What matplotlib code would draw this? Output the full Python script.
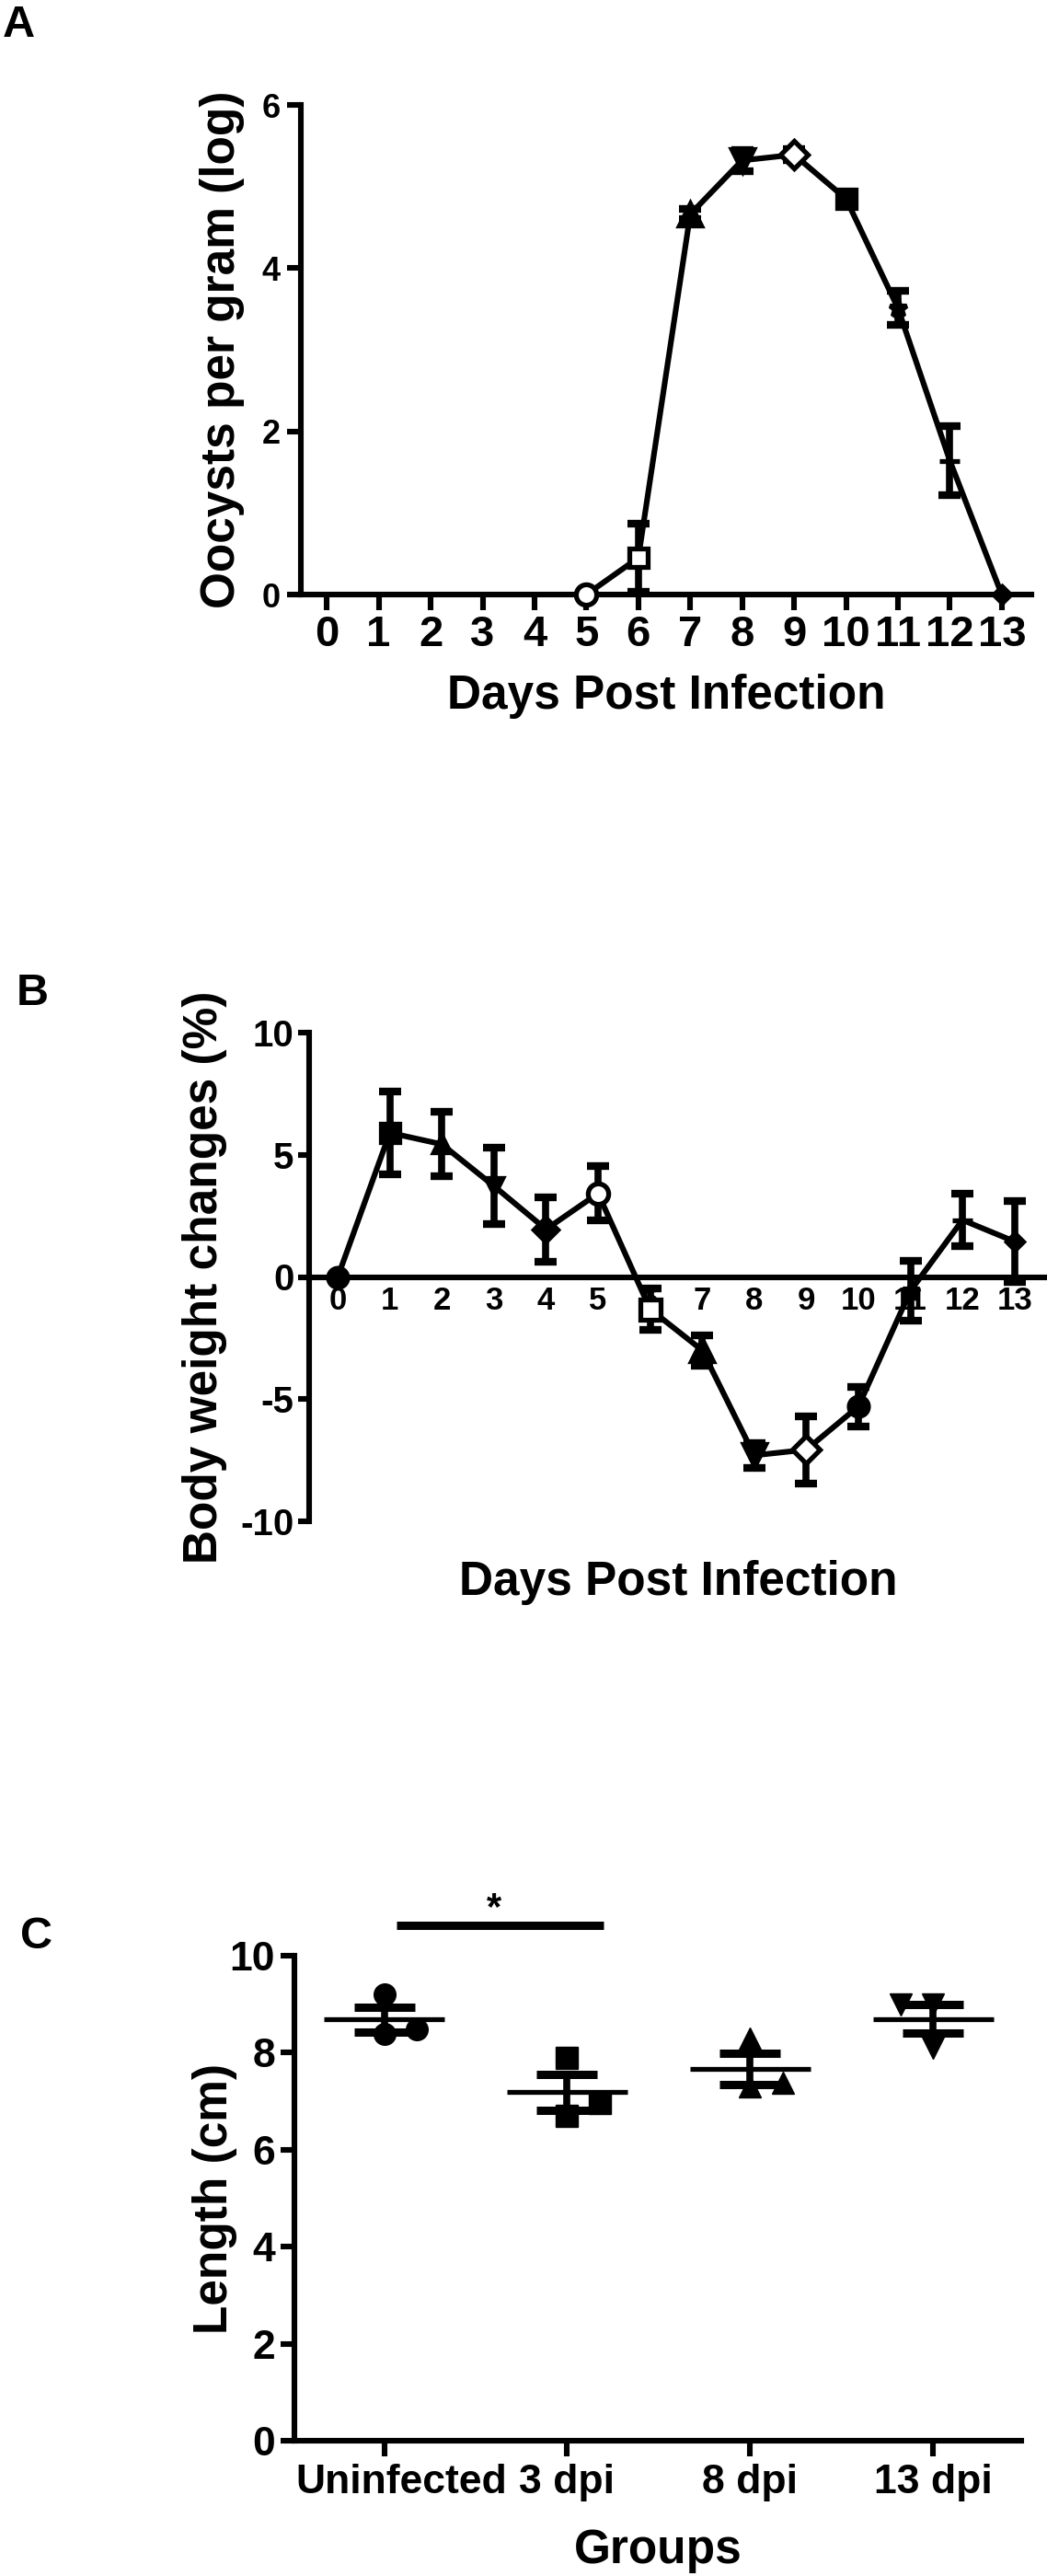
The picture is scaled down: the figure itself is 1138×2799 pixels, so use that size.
import numpy as np
import matplotlib
matplotlib.use("Agg")
from matplotlib import pyplot as plt
from matplotlib.transforms import ScaledTranslation

plt.rcParams['font.family'] = ['Liberation Sans', 'DejaVu Sans']
plt.rcParams['font.weight'] = 'bold'
plt.rcParams['axes.unicode_minus'] = False

# figure size in pixels (dpi 100)
W, H = 1138, 2799

# Panel A: oocysts per gram (log), mean and SEM per day
a_days = [5, 6, 7, 8, 9, 10, 11, 12, 13]
a_mean = [0.0, 0.45, 4.66, 5.32, 5.39, 4.85, 3.51, 1.64, 0.0]
a_sem = [0.0, 0.42, 0.06, 0.13, 0.07, 0.05, 0.21, 0.42, 0.0]
a_xticks = list(range(14))
a_yticks = [0, 2, 4, 6]

# Panel B: body weight changes (%), mean and SEM per day
b_days = list(range(14))
b_mean = [0.0, 5.9, 5.43, 3.72, 1.95, 3.42, -1.32, -3.0, -7.3, -7.07, -5.3, -0.57, 2.33, 1.45]
b_sem = [0.0, 1.69, 1.32, 1.57, 1.32, 1.1, 0.85, 0.62, 0.5, 1.38, 0.81, 1.22, 1.06, 1.65]
b_yticks = [-10, -5, 0, 5, 10]

# Panel C: length (cm) per group, three animals each
c_groups = ['Uninfected', '3 dpi', '8 dpi', '13 dpi']
c_values = [[9.2, 8.39, 8.48], [7.9, 6.69, 6.97], [8.3, 7.3, 7.38], [9.0, 8.1, 9.0]]
c_yticks = [0, 2, 4, 6, 8, 10]
c_sig = '*'

# symbol styles (one per day, as in the original software)
a_marker = ['o', 's', '^', 'v', 'D', 's', '*', '_', 'D']
a_fill = [False, False, True, True, False, True, True, True, True]
a_msize = [16, 15, 17, 17, 15, 15, 14, 16, 9]
b_marker = ['o', 's', '^', 'v', 'D', 'o', 's', '^', 'v', 'D', 'o', '*', '_', 'D']
b_fill = [True, True, True, True, True, False, False, True, True, False, True, True, True, True]
b_msize = [15, 15, 13, 13, 13, 16, 16, 17, 17, 15, 15, 14, 16, 9]
c_marker = ['o', 's', '^', 'v']
c_side = [1, 1, 1, -1]


def fig_xy(x, y):
    return x / W, 1 - y / H


def axes_rect(left, top, right, bottom):
    return [left / W, 1 - bottom / H, (right - left) / W, (bottom - top) / H]


def style_axes(ax):
    for s in ['top', 'right']:
        ax.spines[s].set_visible(False)
    for s in ['left', 'bottom']:
        ax.spines[s].set_linewidth(4.4)
        ax.spines[s].set_capstyle('projecting')
    ax.tick_params(width=4.4, color='k')
    for lab in ax.get_xticklabels() + ax.get_yticklabels():
        lab.set_fontweight('bold')


def draw_points(ax, xs, ys, markers, fills, sizes):
    for x, y, m, f, s in zip(xs, ys, markers, fills, sizes):
        ax.plot(x, y, marker=m, ms=s, mec='k', mfc='k' if f else 'white',
                mew=3.8, linestyle='none', clip_on=False, zorder=5)


def draw_errors(ax, xs, ys, es):
    keep = [i for i, e in enumerate(es) if e > 0]
    ax.errorbar([xs[i] for i in keep], [ys[i] for i in keep],
                yerr=[es[i] for i in keep], fmt='none', ecolor='k',
                elinewidth=5.5, capsize=8.3, capthick=6, clip_on=False, zorder=3)


def spread(vals, side, gap=0.18, tol=0.5):
    offs = []
    for i, v in enumerate(vals):
        hit = any(abs(v - vals[j]) < tol and offs[j] == 0 for j in range(i))
        offs.append(side * gap if hit else 0.0)
    return offs


fig = plt.figure(figsize=(W / 100, H / 100), dpi=100)

# ---------------- Panel A ----------------
ax = fig.add_axes(axes_rect(327, 114, 1121, 646))
ax.plot(a_days, a_mean, color='k', lw=4.4, zorder=2, clip_on=False)
draw_errors(ax, a_days, a_mean, a_sem)
draw_points(ax, a_days, a_mean, a_marker, a_fill, a_msize)
ax.set_xlim(-0.5, 13.57)
ax.set_ylim(0, 6)
ax.set_xticks(a_xticks)
ax.set_yticks(a_yticks)
style_axes(ax)
ax.tick_params(axis='x', length=12, pad=4, labelsize=34)
ax.tick_params(axis='y', length=11, pad=5, labelsize=26)

fig.text(*fig_xy(3, 40), 'A', fontsize=35, fontweight='bold', ha='left', va='baseline')
fig.text(*fig_xy(241, 380), 'Oocysts per gram (log)', fontsize=37, fontweight='bold',
         rotation=90, ha='center', va='center')
fig.text(*fig_xy(724, 770), 'Days Post Infection', fontsize=37, fontweight='bold',
         ha='center', va='baseline')

# ---------------- Panel B ----------------
ax = fig.add_axes(axes_rect(336, 1122, 1135, 1653))
ax.plot(b_days, b_mean, color='k', lw=4.4, zorder=2, clip_on=False)
draw_errors(ax, b_days, b_mean, b_sem)
draw_points(ax, b_days, b_mean, b_marker, b_fill, b_msize)
ax.set_xlim(-0.55, 13.57)
ax.set_ylim(-10, 10)
ax.set_xticks(b_days)
ax.set_yticks(b_yticks)
ax.spines['bottom'].set_position(('data', 0))
style_axes(ax)
ax.tick_params(axis='x', length=0, pad=7, labelsize=25)
ax.tick_params(axis='y', length=9, pad=3, labelsize=29)

fig.text(*fig_xy(18, 1092), 'B', fontsize=35, fontweight='bold', ha='left', va='baseline')
fig.text(*fig_xy(223, 1388), 'Body weight changes (%)', fontsize=37, fontweight='bold',
         rotation=90, ha='center', va='center')
fig.text(*fig_xy(737, 1733), 'Days Post Infection', fontsize=37, fontweight='bold',
         ha='center', va='baseline')

# ---------------- Panel C ----------------
ax = fig.add_axes(axes_rect(320, 2125, 1110, 2652))
for gi, vals in enumerate(c_values):
    offs = spread(vals, c_side[gi])
    ax.plot([gi + o for o in offs], vals, marker=c_marker[gi], ms=17, color='k',
            linestyle='none', zorder=4)
    m = np.mean(vals)
    se = np.std(vals, ddof=1) / np.sqrt(len(vals))
    ax.hlines(m, gi - 0.33, gi + 0.33, color='k', lw=3.8, zorder=5)
    ax.errorbar([gi], [m], yerr=[se], fmt='none', ecolor='k', elinewidth=5.5,
                capsize=23.8, capthick=6.5, zorder=5)
ax.plot([0.07, 1.2], [10.62, 10.62], color='k', lw=6.5, solid_capstyle='butt', clip_on=False)
ax.text(0.6, 10.76, c_sig, fontsize=30, fontweight='bold', ha='center', va='baseline')
ax.set_xlim(-0.49, 3.48)
ax.set_ylim(0, 10)
ax.set_xticks(range(len(c_groups)))
ax.set_xticklabels(c_groups)
ax.set_yticks(c_yticks)
style_axes(ax)
ax.tick_params(axis='x', length=12, pad=6, labelsize=32)
ax.tick_params(axis='y', length=11, pad=4, labelsize=32)
# the first group label sits a little right of its tick in the original
first = ax.get_xticklabels()[0]
first.set_transform(first.get_transform() + ScaledTranslation(0.19, 0, fig.dpi_scale_trans))

fig.text(*fig_xy(22, 2117), 'C', fontsize=35, fontweight='bold', ha='left', va='baseline')
fig.text(*fig_xy(233, 2389), 'Length (cm)', fontsize=37, fontweight='bold',
         rotation=90, ha='center', va='center')
fig.text(*fig_xy(715, 2785), 'Groups', fontsize=37, fontweight='bold',
         ha='center', va='baseline')

fig.savefig('out.png', dpi=100)
